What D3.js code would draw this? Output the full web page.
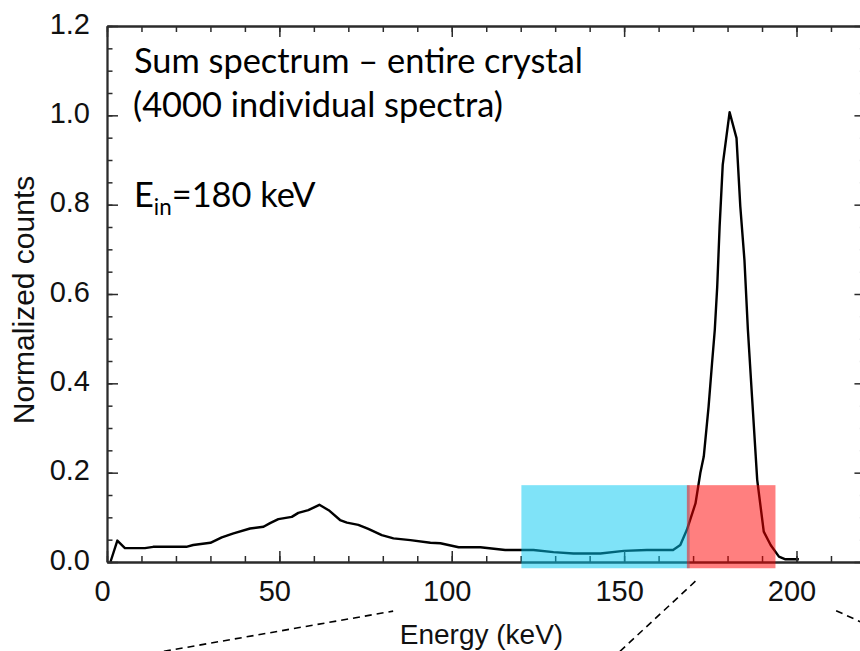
<!DOCTYPE html>
<html>
<head>
<meta charset="utf-8">
<script src="https://cdn.jsdelivr.net/npm/d3@7"></script>
<style>
  body { margin: 0; background: #fff; }
  svg { display: block; }
</style>
</head>
<body>
<div id="chart"></div>
<script>
// Spectrum (energy in keV, normalized counts)
var energy = [1, 3, 5.2, 11, 13.4, 23, 25, 30, 33.3, 36.7, 41.5, 45.4, 47.3, 49.7, 53.6, 55.5, 58.4, 61.6, 64.3,
  67.6, 69.6, 72.9, 75.8, 79.7, 83.1, 88, 93.8, 96.7, 102, 108.3, 115.5, 123.7, 129.5, 135.3, 143.1, 149.9,
  156.6, 164.2, 166.3, 168.2, 170.7, 172.1, 173.1, 174.5, 175.5, 176.3, 177, 177.7, 178.6, 180.6, 182.6,
  183.7, 184.9, 185.9, 187.1, 188.6, 190.5, 192.5, 194.9, 196.8, 200.7];
var counts = [0, 0.048, 0.031, 0.031, 0.034, 0.034, 0.038, 0.043, 0.055, 0.064, 0.075, 0.079, 0.087, 0.096,
  0.101, 0.110, 0.116, 0.128, 0.116, 0.094, 0.088, 0.083, 0.074, 0.060, 0.053, 0.049, 0.043, 0.042, 0.033,
  0.033, 0.027, 0.027, 0.022, 0.019, 0.019, 0.025, 0.027, 0.027, 0.038, 0.072, 0.131, 0.199, 0.236, 0.348,
  0.445, 0.52, 0.616, 0.751, 0.889, 1.007, 0.949, 0.796, 0.676, 0.52, 0.370, 0.184, 0.068, 0.038, 0.012,
  0.006, 0.006];

// axis ticks
var xMajor = [0, 50, 100, 150, 200];
var xMinor = d3.range(0, 221, 10);
var yMajor = [0, 0.2, 0.4, 0.6, 0.8, 1.0, 1.2];
var yMinor = d3.range(0, 1.201, 0.05);

// energy windows (keV) and their height in counts
var windows = [
  { name: "compton", x0: 120.2, x1: 169.0, color: "#00c8f2" },
  { name: "photopeak", x0: 168.2, x1: 193.9, color: "#ff0000" }
];
var windowTop = 0.172;
var windowBottom = -0.014;

// dashed zoom lines below the axis, in keV / counts
var zoomLines = [
  [[16.5, -0.2], [83.0, -0.11]],
  [[148.8, -0.2], [171.1, -0.04]],
  [[211.5, -0.109], [220, -0.139]]
];

var svgWidth = 860;
var svgHeight = 651;

var svg = d3.select("#chart").append("svg")
  .attr("width", svgWidth)
  .attr("height", svgHeight);

svg.append("rect").attr("width", svgWidth).attr("height", svgHeight).attr("fill", "#fff");

var x = d3.scaleLinear().domain([0, 220]).range([107, 107 + 220 * 3.4475]);
var y = d3.scaleLinear().domain([0, 1.2]).range([562, 26]);

var axisColor = "#2b2b2b";

// Spectrum line
var line = d3.line()
  .x(function(d, i) { return x(energy[i]); })
  .y(function(d) { return y(d); });

svg.append("path")
  .datum(counts)
  .attr("d", line)
  .attr("fill", "none")
  .attr("stroke", "#000")
  .attr("stroke-width", 2.4)
  .attr("stroke-linejoin", "round");

// Axes: frame with inward ticks
function styleAxis(g) {
  g.selectAll("path").attr("stroke", axisColor).attr("stroke-width", 1.8);
  g.selectAll("line").attr("stroke", axisColor).attr("stroke-width", 1.5);
  g.selectAll("text").remove();
}

svg.append("g").attr("transform", "translate(0," + y(0) + ")")
  .call(d3.axisBottom(x).tickValues(xMinor).tickSize(-6).tickSizeOuter(0)).call(styleAxis);
svg.append("g").attr("transform", "translate(0," + y(0) + ")")
  .call(d3.axisBottom(x).tickValues(xMajor).tickSize(-11).tickSizeOuter(0)).call(styleAxis);
svg.append("g").attr("transform", "translate(0," + y(1.2) + ")")
  .call(d3.axisTop(x).tickValues(xMinor).tickSize(-6).tickSizeOuter(0)).call(styleAxis);
svg.append("g").attr("transform", "translate(0," + y(1.2) + ")")
  .call(d3.axisTop(x).tickValues(xMajor).tickSize(-11).tickSizeOuter(0)).call(styleAxis);
svg.append("g").attr("transform", "translate(" + x(0) + ",0)")
  .call(d3.axisLeft(y).tickValues(yMinor).tickSize(-5.5).tickSizeOuter(0)).call(styleAxis);
svg.append("g").attr("transform", "translate(" + x(0) + ",0)")
  .call(d3.axisLeft(y).tickValues(yMajor).tickSize(-11).tickSizeOuter(0)).call(styleAxis);
svg.append("g").attr("transform", "translate(" + x(220) + ",0)")
  .call(d3.axisRight(y).tickValues(yMinor).tickSize(-5.5).tickSizeOuter(0)).call(styleAxis);
svg.append("g").attr("transform", "translate(" + x(220) + ",0)")
  .call(d3.axisRight(y).tickValues(yMajor).tickSize(-11).tickSizeOuter(0)).call(styleAxis);

// Tick labels
var labelFont = "'Liberation Sans', Arial, sans-serif";

svg.selectAll(".xlabel").data(xMajor).enter().append("text")
  .attr("class", "xlabel")
  .attr("x", function(d) { return x(d) - 4.5; })
  .attr("y", 601)
  .attr("text-anchor", "middle")
  .attr("font-family", labelFont)
  .attr("font-size", "29px")
  .attr("fill", "#111")
  .text(function(d) { return d; });

svg.selectAll(".ylabel").data(yMajor).enter().append("text")
  .attr("class", "ylabel")
  .attr("x", 90)
  .attr("y", function(d) { return y(d) + 7.5; })
  .attr("text-anchor", "end")
  .attr("font-family", labelFont)
  .attr("font-size", "29px")
  .attr("fill", "#111")
  .text(d3.format(".1f"));

// Axis titles
svg.append("text")
  .attr("x", 481.5)
  .attr("y", 644)
  .attr("text-anchor", "middle")
  .attr("font-family", labelFont)
  .attr("font-size", "28px")
  .attr("fill", "#111")
  .text("Energy (keV)");

svg.append("text")
  .attr("transform", "translate(34,300) rotate(-90)")
  .attr("text-anchor", "middle")
  .attr("font-family", labelFont)
  .attr("font-size", "30px")
  .attr("fill", "#111")
  .text("Normalized counts");

// Energy windows drawn semi-transparent on top of the curve
svg.selectAll(".window").data(windows).enter().append("rect")
  .attr("class", "window")
  .attr("x", function(d) { return x(d.x0); })
  .attr("width", function(d) { return x(d.x1) - x(d.x0); })
  .attr("y", y(windowTop))
  .attr("height", y(windowBottom) - y(windowTop))
  .attr("fill", function(d) { return d.color; })
  .attr("fill-opacity", 0.5);

// Dashed lines leading to the zoomed panels
svg.selectAll(".zoomline").data(zoomLines).enter().append("line")
  .attr("class", "zoomline")
  .attr("x1", function(d) { return x(d[0][0]); })
  .attr("y1", function(d) { return y(d[0][1]); })
  .attr("x2", function(d) { return x(d[1][0]); })
  .attr("y2", function(d) { return y(d[1][1]); })
  .attr("stroke", "#000")
  .attr("stroke-width", 1.6)
  .attr("stroke-dasharray", "7,5");

// Annotation text
var noteFont = "Lato, 'Open Sans', sans-serif";
var note1 = svg.append("text")
  .attr("x", 134)
  .attr("y", 73)
  .attr("font-family", noteFont)
  .attr("font-size", "100px")
  .attr("fill", "#000")
  .text("Sum spectrum \u2013 entire crystal");

// fit the note font so the first line spans the same width as in the picture
var noteSize = 100 * 449 / note1.node().getComputedTextLength();
note1.attr("font-size", noteSize + "px");

svg.append("text")
  .attr("x", 133)
  .attr("y", 117)
  .attr("font-family", noteFont)
  .attr("font-size", noteSize + "px")
  .attr("fill", "#000")
  .text("(4000 individual spectra)");

var ein = svg.append("text")
  .attr("x", 134)
  .attr("y", 207)
  .attr("font-family", noteFont)
  .attr("font-size", noteSize + "px")
  .attr("fill", "#000");
ein.append("tspan").text("E");
ein.append("tspan").attr("dy", 8).attr("font-size", (noteSize * 0.65) + "px").text("in");
ein.append("tspan").attr("dy", -8).text("=180 keV");
</script>
</body>
</html>
